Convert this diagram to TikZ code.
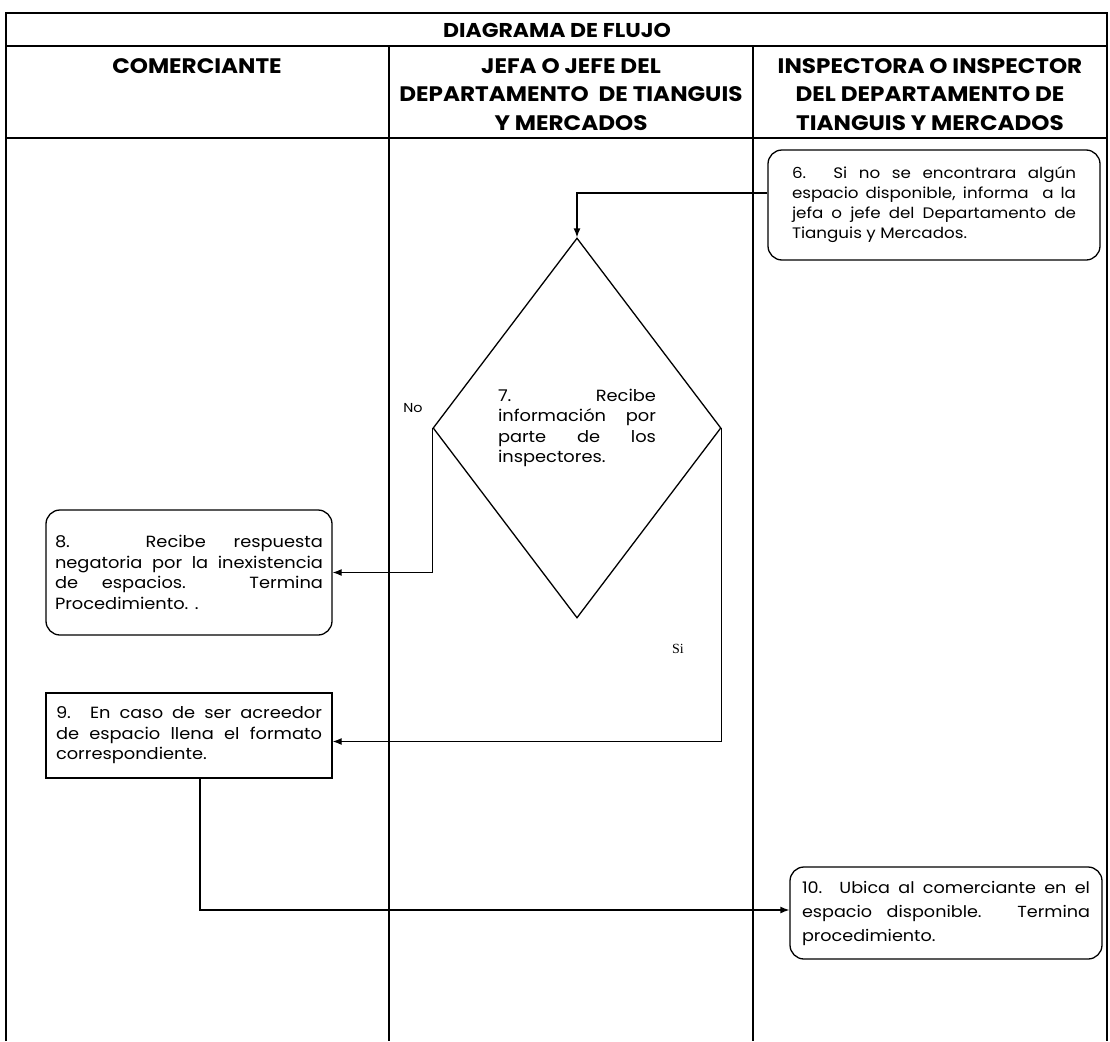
\documentclass[tikz,border=0pt]{standalone}
\usepackage{fontspec}
\setmainfont{Poppins}[FakeStretch=1.1]
\newfontfamily\serifsi{Liberation Serif}
\usetikzlibrary{shapes.geometric,arrows.meta}
\hbadness=10000
\hfuzz=60pt
\newcommand\bodyfnt{\fontsize{16.2}{20.5}\selectfont}
\newcommand\headfnt{\fontsize{21}{28.5}\selectfont\bfseries}
\begin{document}
\begin{tikzpicture}[x=1pt,y=-1pt,
  grid/.style={line width=1.4pt,black},
  head/.style={font=\headfnt,align=center,inner sep=0pt,anchor=north},
  proc/.style={draw,line width=1.3pt,align=justify,inner sep=0pt,font=\bodyfnt},
  rproc/.style={proc,rounded corners=14pt},
  conn/.style={line width=1.3pt,-{Latex[length=9pt,width=7pt]}},
  lbl/.style={inner sep=0pt,font=\fontsize{13}{15}\selectfont}]
\useasboundingbox (0,0) rectangle (1110,1041);
\fill[white] (0,0) rectangle (1110,1041);
% table frame
\draw[grid] (6,1041) -- (6,13) -- (1107,13) -- (1107,1041);
\draw[grid] (6,46) -- (1107,46);
\draw[grid] (6,138) -- (1107,138);
\draw[grid] (389,46) -- (389,1041);
\draw[grid] (753,46) -- (753,1041);
% headers
\node[inner sep=0pt,font=\fontsize{20}{22}\selectfont\bfseries] (title) at (557,30) {DIAGRAMA DE FLUJO};
\node[head] (h1) at (197,58) {COMERCIANTE};
\node[head] (h2) at (571,58) {JEFA O JEFE DEL\\DEPARTAMENTO\ \ DE TIANGUIS\\Y MERCADOS};
\node[head] (h3) at (930,58) {INSPECTORA O INSPECTOR\\DEL DEPARTAMENTO DE\\TIANGUIS Y MERCADOS};
% process boxes
\node[rproc,minimum width=332pt,minimum height=110pt,text width=284pt,
  font=\fontsize{15.2}{20}\selectfont] (b6) at (934,205)
 {6. Si no se encontrara algún\linebreak espacio disponible, informa\ \ a la\linebreak jefa o jefe del Departamento de\linebreak Tianguis y Mercados.};
\node[draw,diamond,line width=1.3pt,minimum width=288pt,minimum height=380pt,inner sep=0pt,
  text width=158pt,align=justify,font=\bodyfnt] (d7) at (577,428)
 {7. Recibe\linebreak información por\linebreak parte de los\linebreak inspectores.};
\node[rproc,minimum width=286pt,minimum height=125pt,text width=268pt] (b8) at (189,572.5)
 {8. Recibe respuesta\linebreak negatoria por la inexistencia\linebreak de espacios. Termina\linebreak Procedimiento. .};
\node[proc,minimum width=286pt,minimum height=85pt,text width=266pt] (b9) at (189,735.5)
 {9. En caso de ser acreedor\linebreak de espacio llena el formato\linebreak correspondiente.};
\node[rproc,minimum width=312pt,minimum height=92pt,text width=288pt,
  font=\fontsize{16}{24}\selectfont] (b10) at (946,913)
 {10. Ubica al comerciante en el\linebreak espacio disponible. Termina\linebreak procedimiento.};
% labels
\node[lbl] (no) at (413,408) {No};
\node[inner sep=0pt,font=\serifsi\fontsize{14}{16}\selectfont] (si) at (678,649) {Si};
% connectors
\draw[conn] ([yshift=12pt]b6.west) -| (d7.north);
\draw[conn] (d7.west) |- (b8.east);
\draw[conn] (d7.east) |- ([yshift=-6pt]b9.east);
\draw[conn] ([xshift=11pt]b9.south) |- ([yshift=3pt]b10.west);
\end{tikzpicture}
\end{document}
